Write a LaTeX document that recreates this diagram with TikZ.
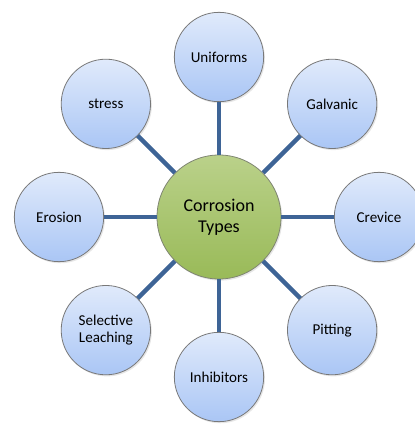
\documentclass[tikz,border=0pt]{standalone}
\usepackage{fontspec}
\setmainfont{Carlito}
\usepackage{tikz}
\usetikzlibrary{shadows}
\definecolor{leaftop}{RGB}{224,234,251}
\definecolor{leafbot}{RGB}{170,198,245}
\definecolor{hubtop}{RGB}{186,209,138}
\definecolor{hubbot}{RGB}{153,186,88}
\definecolor{spoke}{RGB}{62,100,150}
\definecolor{rim}{RGB}{120,120,120}

\begin{document}
\begin{tikzpicture}[x=0.75pt,y=0.75pt,
    leaf/.style={circle, draw=rim, line width=0.6pt, top color=leaftop, bottom color=leafbot,
        minimum size=67pt, inner sep=0pt, align=center, font=\fontsize{11.3}{13}\selectfont,
        drop shadow={opacity=0.2, shadow xshift=1pt, shadow yshift=-1.2pt}},
    hub/.style={circle, draw=rim!80!hubbot, line width=0.6pt, top color=hubtop, bottom color=hubbot,
        minimum size=93pt, inner sep=0pt, align=center, font=\fontsize{13.5}{16}\selectfont,
        drop shadow={opacity=0.2, shadow xshift=1pt, shadow yshift=-1.2pt}},
    link/.style={draw=spoke, line width=3.4pt}]

    % page frame, centre circle sits at the origin
    \useasboundingbox (-219,-207) rectangle (195,217);

    % centre node
    \node[hub] (types) at (0,0) {Corrosion\\Types};

    % outer ring of corrosion kinds
    \foreach \ang/\name/\txt in {90/uni/Uniforms, 45/gal/Galvanic, 0/cre/Crevice,
        -45/pit/Pitting, -90/inh/Inhibitors, -135/sel/{Selective\\Leaching},
        180/ero/Erosion, 135/str/stress} {
        \node[leaf] (\name) at (\ang:160) {\txt};
        \draw[link] (types) -- (\name);
    }
\end{tikzpicture}
\end{document}
